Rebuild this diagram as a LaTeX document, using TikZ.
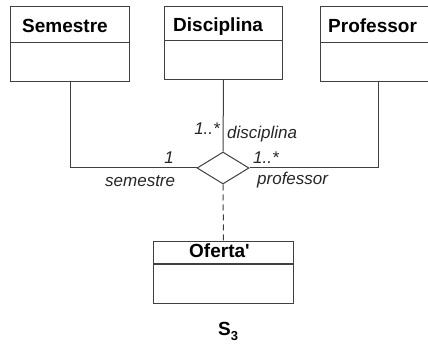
\documentclass[tikz,border=0pt]{standalone}
\usepackage{fontspec}
\setmainfont{Liberation Sans}
\newfontfamily\straightsans{Liberation Sans}[Ligatures=TeXOff]
\usetikzlibrary{shapes.geometric,calc}

\begin{document}
\begin{tikzpicture}[x=1pt,y=-1pt,
  linecol/.style={draw=black!75, line width=1pt},
  classbox/.style={linecol, rectangle, anchor=north west, inner sep=0pt},
  classtitle/.style={font=\bfseries\fontsize{19}{19}\selectfont, inner sep=0pt, anchor=base west},
  role/.style={font=\itshape\fontsize{17}{17}\selectfont, inner sep=0pt, text=black!85},
  relation/.style={linecol, diamond, inner sep=0pt, minimum width=52pt, minimum height=32pt},
  assoc/.style={linecol},
  dashedlink/.style={linecol, dash pattern=on 6pt off 4pt}]

  \useasboundingbox (0,0) rectangle (428,347);

  % class boxes
  \node[classbox, minimum width=119pt, minimum height=75pt] (sem) at (10,6) {};
  \draw[linecol] ($(sem.north west)+(0,37)$) -- ($(sem.north east)+(0,37)$);
  \node[classtitle] (semT) at (22,33) {Semestre};

  \node[classbox, minimum width=118pt, minimum height=73pt] (dis) at (164,6) {};
  \draw[linecol] ($(dis.north west)+(0,35)$) -- ($(dis.north east)+(0,35)$);
  \node[classtitle] (disT) at (173,32) {Disciplina};

  \node[classbox, minimum width=116pt, minimum height=75pt] (prof) at (320,6) {};
  \draw[linecol] ($(prof.north west)+(0,37)$) -- ($(prof.north east)+(0,37)$);
  \node[classtitle] (profT) at (328,33) {Professor};

  \node[classbox, minimum width=140pt, minimum height=62pt] (ofe) at (153,241) {};
  \draw[linecol] ($(ofe.north west)+(0,23)$) -- ($(ofe.north east)+(0,23)$);
  \node[classtitle] (ofeT) at (189,258) {\straightsans\bfseries Oferta'};

  % n-ary association
  \node[relation] (rel) at (223,168) {};
  \draw[assoc] (sem.south) |- (rel.west);
  \draw[assoc] (dis.south) -- (rel.north);
  \draw[assoc] (prof.south) |- (rel.east);
  \draw[dashedlink] (rel.south) -- (ofe.north);

  % multiplicities and role names
  \node[role, anchor=base east] (mDis) at (220,135) {1..*};
  \node[role, anchor=base west] (rDis) at (227,139) {disciplina};
  \node[role, anchor=base east] (mSem) at (174,164) {1};
  \node[role, anchor=base west] (mProf) at (253,164) {1..*};
  \node[role, anchor=base west] (rSem) at (105,187) {semestre};
  \node[role, anchor=base west] (rProf) at (257,185) {professor};

  % caption
  \node[font=\bfseries\fontsize{19}{19}\selectfont, inner sep=0pt, anchor=base west] (cap) at (218,335)
    {S\raisebox{-5pt}{\fontsize{13}{13}\selectfont 3}};
\end{tikzpicture}
\end{document}
